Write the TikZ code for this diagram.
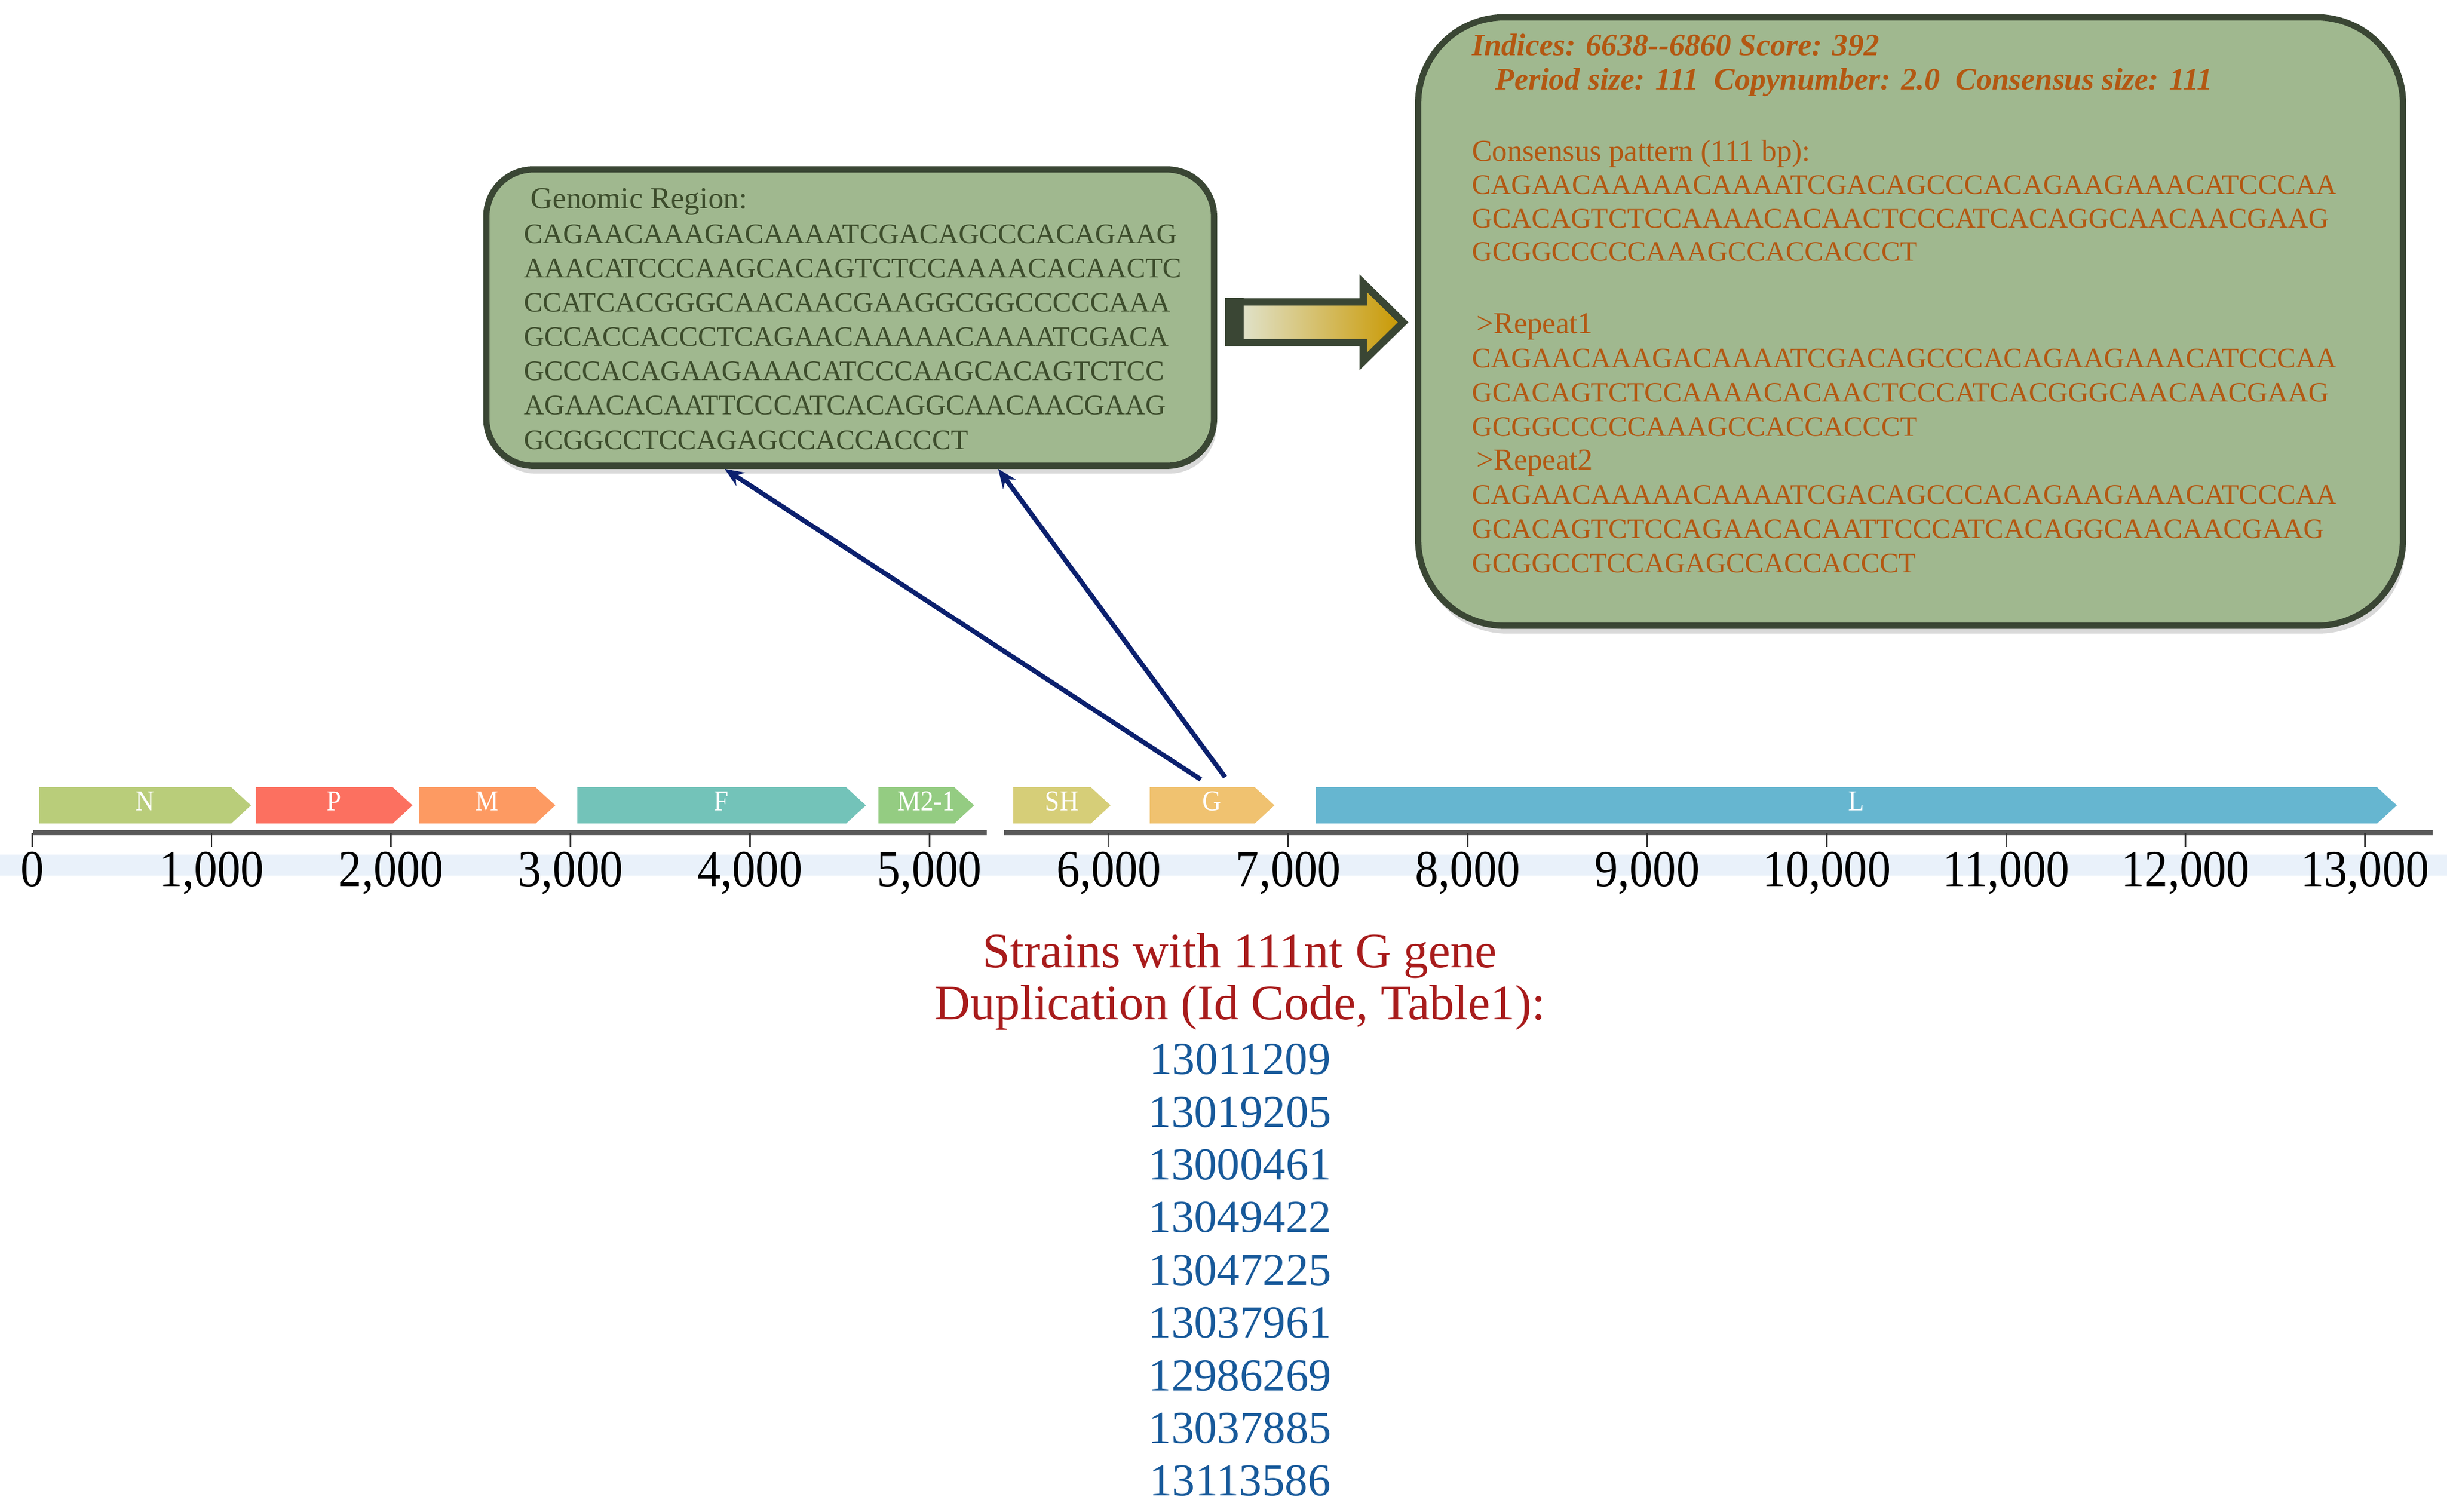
\documentclass[tikz,border=0pt]{standalone}
\usepackage{fontspec}
\setmainfont{Liberation Serif}
\newfontfamily\narrowserif{Liberation Serif}[FakeStretch=0.9]
\usetikzlibrary{arrows.meta,positioning,shadows}

\definecolor{boxfill}{HTML}{A0B88F}
\definecolor{boxborder}{HTML}{3A4634}
\definecolor{regioncol}{HTML}{3D4D2C}
\definecolor{repeatcol}{HTML}{B35812}
\definecolor{arrowlight}{HTML}{E2E8DA}
\definecolor{arrowgold}{HTML}{C99800}
\definecolor{arrowblue}{HTML}{0B206E}
\definecolor{bandblue}{HTML}{E9F1FA}
\definecolor{titlered}{HTML}{A81B1B}
\definecolor{idblue}{HTML}{17599A}
\definecolor{geneN}{HTML}{B9CD7A}
\definecolor{geneP}{HTML}{FC7060}
\definecolor{geneM}{HTML}{FD9A62}
\definecolor{geneF}{HTML}{73C3B9}
\definecolor{geneMtwo}{HTML}{94CC82}
\definecolor{geneSH}{HTML}{D6CE78}
\definecolor{geneG}{HTML}{F0C270}
\definecolor{geneL}{HTML}{66B6D0}

\begin{document}
\begin{tikzpicture}[
		x=0.02cm, y=-0.02cm,
		infobox/.style={draw=boxborder, fill=boxfill, line width=0.08cm,
				drop shadow={shadow xshift=0.03cm, shadow yshift=-0.1cm, opacity=0.3}},
		regiontitle/.style={anchor=base west, inner sep=0pt, text=regioncol, font=\fontsize{11.1}{13}\selectfont},
		regionseq/.style={anchor=base west, inner sep=0pt, text=regioncol, font=\fontsize{10.25}{12}\selectfont},
		headline/.style={anchor=base west, inner sep=0pt, text=repeatcol, font=\fontsize{11.3}{13}\selectfont\bfseries\itshape},
		repeatlabel/.style={anchor=base west, inner sep=0pt, text=repeatcol, font=\fontsize{11}{13}\selectfont},
		repeatseq/.style={anchor=base west, inner sep=0pt, text=repeatcol, font=\fontsize{10.25}{12}\selectfont},
		blockarrow/.style={draw=boxborder, line width=0.094cm, line join=miter,
				left color=arrowlight, middle color=arrowgold!85!arrowlight, right color=arrowgold},
		strainarrow/.style={draw=arrowblue, line width=0.06cm, -{Stealth[length=0.24cm, width=0.2cm]}},
		genelabel/.style={anchor=base, inner sep=0pt, text=white, font=\narrowserif\fontsize{10.5}{12}\selectfont},
		axisline/.style={draw=black!65, line width=0.066cm},
		tickline/.style={draw=black!80, line width=0.02cm},
		ticklabel/.style={anchor=base, inner sep=0pt, font=\narrowserif\fontsize{18.8}{20}\selectfont},
		straintitle/.style={anchor=base, inner sep=0pt, text=titlered, font=\fontsize{18}{20}\selectfont},
		strainid/.style={anchor=base, inner sep=0pt, text=idblue, font=\fontsize{16.6}{19}\selectfont}
	]

	\useasboundingbox (0,0) rectangle (1560,964);

	% genomic region box
	\node[infobox, rounded corners=0.6cm, minimum width=9.28cm, minimum height=3.78cm] (genomic) at (542,202.5) {};
	\node[regiontitle] (regionname) at (338,132.8) {Genomic Region:};
	\foreach \seq [count=\i from 0] in {CAGAACAAAGACAAAATCGACAGCCCACAGAAG,
			AAACATCCCAAGCACAGTCTCCAAAACACAACTC,
			CCATCACGGGCAACAACGAAGGCGGCCCCCAAA,
			GCCACCACCCTCAGAACAAAAACAAAATCGACA,
			GCCCACAGAAGAAACATCCCAAGCACAGTCTCC,
			AGAACACAATTCCCATCACAGGCAACAACGAAG,
			GCGGCCTCCAGAGCCACCACCCT}
		\node[regionseq] (region\i) at (333.7,155+21.9*\i) {\seq};

	% tandem repeat box
	\node[infobox, rounded corners=1.1cm, minimum width=12.56cm, minimum height=7.76cm] (tandem) at (1218,205) {};
	\node[headline] (indices) at (938,35.4) {Indices: 6638-{}-6860 Score: 392};
	\node[headline] (period) at (953,57.3) {Period size: 111\ \ Copynumber: 2.0\ \ Consensus size: 111};

	\node[repeatlabel] (conslabel) at (938,102.6) {Consensus pattern (111 bp):};
	\foreach \seq [count=\i] in {CAGAACAAAAACAAAATCGACAGCCCACAGAAGAAACATCCCAA,
			GCACAGTCTCCAAAACACAACTCCCATCACAGGCAACAACGAAG,
			GCGGCCCCCAAAGCCACCACCCT}
		\node[repeatseq] (cons\i) at (938,102.6+21.3*\i) {\seq};

	\node[repeatlabel] (rep1label) at (941,212.5) {>Repeat1};
	\foreach \seq [count=\i] in {CAGAACAAAGACAAAATCGACAGCCCACAGAAGAAACATCCCAA,
			GCACAGTCTCCAAAACACAACTCCCATCACGGGCAACAACGAAG,
			GCGGCCCCCAAAGCCACCACCCT}
		\node[repeatseq] (repa\i) at (938,212.5+21.8*\i) {\seq};

	\node[repeatlabel] (rep2label) at (941,299.6) {>Repeat2};
	\foreach \seq [count=\i] in {CAGAACAAAAACAAAATCGACAGCCCACAGAAGAAACATCCCAA,
			GCACAGTCTCCAGAACACAATTCCCATCACAGGCAACAACGAAG,
			GCGGCCTCCAGAGCCACCACCCT}
		\node[repeatseq] (repb\i) at (938,299.6+21.8*\i) {\seq};

	% block arrow between the boxes
	\filldraw[blockarrow] (783.3,192.5) -- (869,192.5) -- (869,180.5) -- (894.5,205.5)
		-- (869,230.5) -- (869,218.5) -- (783.3,218.5) -- cycle;
	\fill[boxborder] (781,190) rectangle (793,221);

	% genes
	\foreach \name/\xa/\xb/\col in {N/25/160/geneN, P/163/263/geneP, M/267/354/geneM,
			F/368/552/geneF, M2-1/560/621/geneMtwo, SH/646/708/geneSH,
			G/733/812.5/geneG, L/839/1528/geneL}
	{
		\fill[\col] (\xa,502) -- (\xb-12.5,502) -- (\xb,513.5) -- (\xb-12.5,525) -- (\xa,525) -- cycle;
		\node[genelabel] (gene\name) at ({(\xa+\xb)/2},517) {\name};
	}

	% scale
	\fill[bandblue] (0,545) rectangle (1560,558.3);
	\draw[axisline] (21,531) -- (629,531);
	\draw[axisline] (640,531) -- (1551,531);
	\foreach \k in {0,...,13}
	{
		\draw[tickline] (20.5+114.4*\k,531) -- ++(0,9);
		\node[ticklabel] (tick\k) at (20.5+114.4*\k,565) {\ifnum\k=0 0\else\k,000\fi};
	}

	% arrows from the G gene
	\coordinate (gstart1) at (765.5,497);
	\coordinate (gstart2) at (781,495.5);
	\draw[strainarrow] (gstart1) -- ([xshift=-1.6cm]genomic.south);
	\draw[strainarrow] (gstart2) -- ([xshift=1.888cm]genomic.south);

	% strain list
	\node[straintitle] (title1) at (790.5,617) {Strains with 111nt G gene};
	\node[straintitle] (title2) at (790.5,650) {Duplication (Id Code, Table1):};
	\foreach \id [count=\i from 0] in {13011209,13019205,13000461,13049422,13047225,
			13037961,12986269,13037885,13113586}
		\node[strainid] (strain\i) at (790.5,685+33.6*\i) {\id};

\end{tikzpicture}
\end{document}
